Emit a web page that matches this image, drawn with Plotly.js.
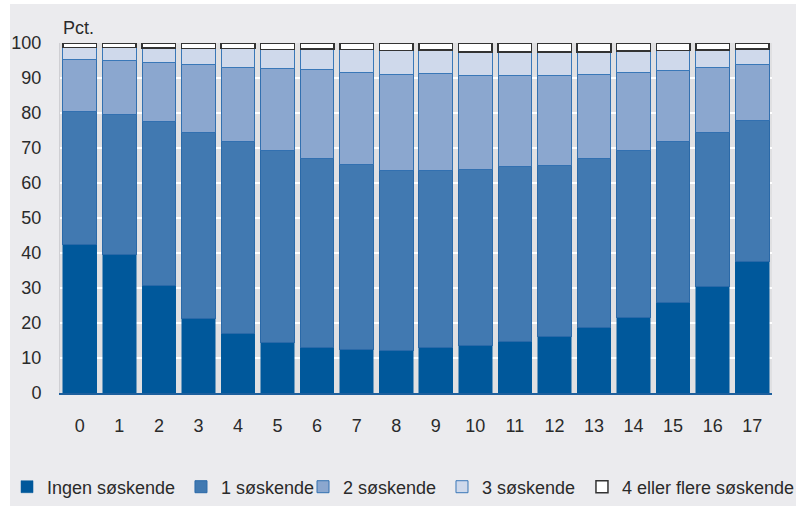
<!DOCTYPE html>
<html>
<head>
<meta charset="utf-8">
<script src="https://cdn.plot.ly/plotly-3.0.1.min.js"></script>
<style>
  html, body { margin: 0; padding: 0; background: #ffffff; width: 798px; height: 506px; overflow: hidden; }
  #chart { position: absolute; left: 10px; top: 4px; width: 786px; height: 502px; }
</style>
</head>
<body>
<div id="chart"></div>
<script>
// Age categories (x axis)
const ages = ['0','1','2','3','4','5','6','7','8','9','10','11','12','13','14','15','16','17'];

// Series values (percent of children)
const ingenSoskende = [42.4, 39.6, 30.7, 21.3, 16.9, 14.3, 13.1, 12.4, 12.2, 12.9, 13.7, 14.7, 16.1, 18.7, 21.7, 25.9, 30.5, 37.5];
const enSoskende    = [37.9, 40.1, 46.8, 53.1, 54.9, 54.9, 53.8, 52.9, 51.5, 50.8, 50.2, 49.9, 49.0, 48.2, 47.7, 45.9, 43.9, 40.3];
const toSoskende    = [14.9, 15.2, 16.9, 19.4, 21.3, 23.5, 25.5, 26.3, 27.4, 27.5, 26.8, 26.0, 25.6, 24.0, 22.1, 20.3, 18.6, 16.2];
const treSoskende   = [3.5, 3.8, 4.2, 4.6, 5.3, 5.5, 5.9, 6.5, 6.8, 6.8, 6.8, 6.8, 6.8, 6.6, 6.2, 5.7, 5.0, 4.3];
const fireFlere     = [1.3, 1.3, 1.4, 1.6, 1.6, 1.8, 1.7, 1.9, 2.1, 2.0, 2.5, 2.6, 2.5, 2.5, 2.3, 2.2, 2.0, 1.7];

const seriesNames = ['Ingen søskende', '1 søskende', '2 søskende', '3 søskende', '4 eller flere søskende'];
const yTicks = [0, 10, 20, 30, 40, 50, 60, 70, 80, 90, 100];

const FONT = 'Liberation Sans, Arial, sans-serif';
const TXT = '#2a2a2a';

const fills = ['#00589b', '#4179b1', '#8ba7cf', '#cfd9eb', '#ffffff'];
const lines = ['#00589b', '#2a69a8', '#3270b0', '#3a78b8', '#333333'];
const lineW = [0.5, 1, 1, 1, 1.5];
const values = [ingenSoskende, enSoskende, toSoskende, treSoskende, fireFlere];
const legendIds = ['legend', 'legend2', 'legend3', 'legend4', 'legend5'];

const traces = values.map((v, i) => ({
  type: 'bar',
  x: ages,
  y: v,
  name: seriesNames[i],
  legend: legendIds[i],
  showlegend: true,
  marker: { color: fills[i], line: { color: lines[i], width: lineW[i] } },
  hoverinfo: 'x+y+name'
}));

const legendX = [-0.0744, 0.1699, 0.3413, 0.5365, 0.7331];
const legendY = -0.2686;

const layout = {
  width: 786,
  height: 502,
  margin: { l: 50, r: 24, t: 39, b: 113, autoexpand: false },
  paper_bgcolor: '#ebebee',
  plot_bgcolor: '#e0e0e2',
  barmode: 'stack',
  bargap: 0.15,
  showlegend: true,
  font: { family: FONT, size: 18, color: TXT },
  xaxis: {
    type: 'category',
    showgrid: false,
    showline: true,
    linecolor: '#1d5f9d',
    linewidth: 1.5,
    ticks: '',
    ticklabelstandoff: 16,
    tickfont: { family: FONT, size: 18, color: TXT },
    zeroline: false
  },
  yaxis: {
    range: [0, 100],
    tickvals: yTicks,
    ticktext: yTicks.map(String),
    showgrid: true,
    gridcolor: '#ffffff',
    gridwidth: 2,
    showline: true,
    linecolor: '#cfcfd3',
    linewidth: 1,
    ticks: '',
    ticklabelstandoff: 14,
    zeroline: false,
    tickfont: { family: FONT, size: 18, color: TXT }
  },
  annotations: [{
    text: 'Pct.',
    xref: 'paper', yref: 'paper',
    x: 0.002, y: 1.043,
    xanchor: 'left', yanchor: 'middle',
    showarrow: false,
    font: { family: FONT, size: 18, color: TXT }
  }]
};

legendIds.forEach((id, i) => {
  layout[id] = {
    visible: true,
    x: legendX[i], y: legendY,
    xanchor: 'left', yanchor: 'middle',
    bgcolor: 'rgba(0,0,0,0)',
    borderwidth: 0,
    font: { family: FONT, size: 18, color: TXT }
  };
});

Plotly.newPlot('chart', traces, layout, { displayModeBar: false, staticPlot: true });
</script>
</body>
</html>
